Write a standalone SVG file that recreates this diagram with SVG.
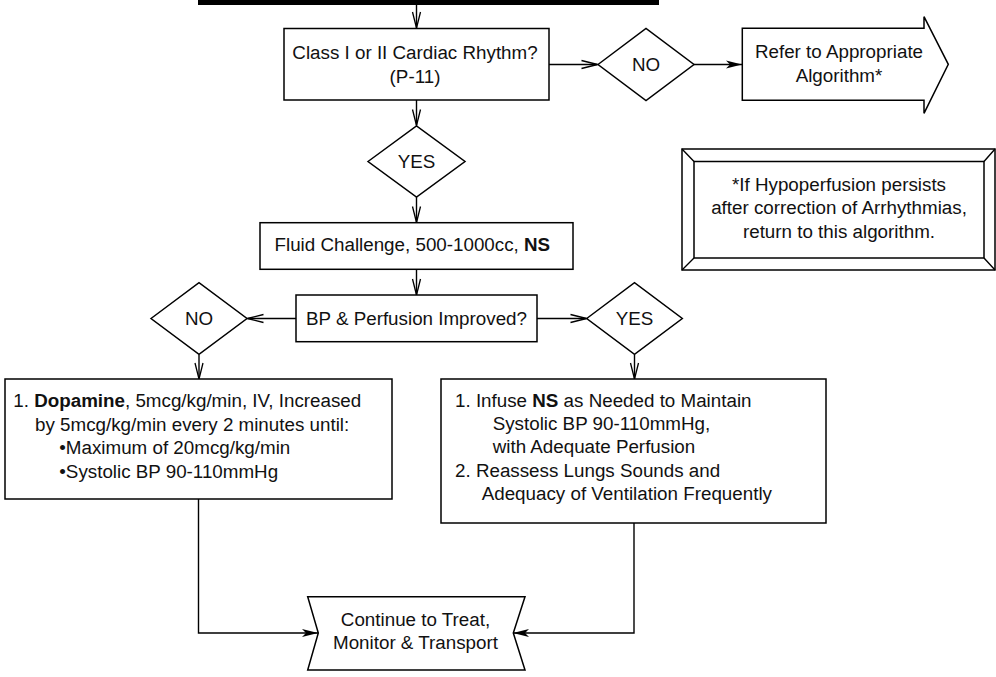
<svg xmlns="http://www.w3.org/2000/svg" width="996" height="677" viewBox="0 0 996 677">
<style>
.s{fill:#fff;stroke:#000;stroke-width:1.5}
.c{fill:none;stroke:#000;stroke-width:1.4}
text{font-family:"Liberation Sans",Arial,sans-serif;font-size:18.8px;fill:#111}
.m{text-anchor:middle}
.b{font-weight:bold}
</style>
<defs>
<marker id="v" markerUnits="userSpaceOnUse" markerWidth="20" markerHeight="12" viewBox="-17 -6 18 12" refX="0" refY="0" orient="auto">
<path d="M-16,-4 L0,0 L-16,4" fill="none" stroke="#000" stroke-width="1.3"/>
</marker>
<marker id="f" markerUnits="userSpaceOnUse" markerWidth="20" markerHeight="12" viewBox="-17 -6 18 12" refX="0" refY="0" orient="auto">
<path d="M-16,-4 L0,0 L-16,4 L-12,0 Z" fill="#000"/>
</marker>
</defs>
<rect id="topbar" x="198" y="0" width="461" height="5" fill="#000"/>
<g id="connectors">
<path class="c" d="M416.5,5 V28" marker-end="url(#v)"/>
<path class="c" d="M549,64.5 H597.5" marker-end="url(#v)"/>
<path class="c" d="M694,64.5 H742" marker-end="url(#f)"/>
<path class="c" d="M416.5,100 V125.5" marker-end="url(#v)"/>
<path class="c" d="M416.5,197 V222.5" marker-end="url(#v)"/>
<path class="c" d="M416.5,269.5 V295" marker-end="url(#v)"/>
<path class="c" d="M296,318.5 H247.5" marker-end="url(#v)"/>
<path class="c" d="M537,318.5 H586.5" marker-end="url(#v)"/>
<path class="c" d="M199,354.5 V379" marker-end="url(#v)"/>
<path class="c" d="M634.5,354.5 V379" marker-end="url(#v)"/>
<path class="c" d="M198.5,499 V633 H318" marker-end="url(#f)"/>
<path class="c" d="M634,523 V633 H513" marker-end="url(#f)"/>
</g>
<g id="n-rhythm">
<rect class="s" x="284" y="28.5" width="265" height="71.5"/>
<text class="m" x="415" y="59">Class I or II Cardiac Rhythm?</text>
<text class="m" x="415" y="82.5">(P-11)</text>
</g>
<g id="n-no1">
<path class="s" d="M598,64.5 L646,28.5 L694,64.5 L646,100.5 Z"/>
<text class="m" x="646" y="71">NO</text>
</g>
<g id="n-refer">
<path class="s" d="M742.3,28.3 H924 V16.7 L948.3,64.3 L924,113.3 V100.3 H742.3 Z"/>
<text class="m" x="839" y="58.3">Refer to Appropriate</text>
<text class="m" x="839" y="81.7">Algorithm*</text>
</g>
<g id="n-note">
<rect class="s" x="682" y="149" width="313" height="121"/>
<rect class="s" x="694" y="161.5" width="290" height="96.5"/>
<path class="c" d="M682,149 L694,161.5 M995,149 L984,161.5 M682,270 L694,258 M995,270 L984,258"/>
<text class="m" x="839" y="190.5">*If Hypoperfusion persists</text>
<text class="m" x="839" y="214">after correction of Arrhythmias,</text>
<text class="m" x="839" y="237.5">return to this algorithm.</text>
</g>
<g id="n-yes1">
<path class="s" d="M368,161.5 L416.5,126 L465,161.5 L416.5,197 Z"/>
<text class="m" x="416.5" y="168">YES</text>
</g>
<g id="n-fluid">
<rect class="s" x="260" y="222.7" width="313" height="46.6"/>
<text x="274.5" y="251">Fluid Challenge, 500-1000cc, <tspan class="b">NS</tspan></text>
</g>
<g id="n-bp">
<rect class="s" x="296" y="295" width="241" height="46.7"/>
<text class="m" x="416.5" y="324.5">BP &amp; Perfusion Improved?</text>
</g>
<g id="n-no2">
<path class="s" d="M151,318.5 L199,282.7 L247,318.5 L199,354.3 Z"/>
<text class="m" x="199" y="325">NO</text>
</g>
<g id="n-yes2">
<path class="s" d="M586.7,318.5 L634.5,282.7 L682.3,318.5 L634.5,354.3 Z"/>
<text class="m" x="634.5" y="325">YES</text>
</g>
<g id="n-dopamine">
<rect class="s" x="5" y="379" width="387" height="120"/>
<text x="13.3" y="407.3">1. <tspan class="b">Dopamine</tspan>, 5mcg/kg/min, IV, Increased</text>
<text x="35" y="431">by 5mcg/kg/min every 2 minutes until:</text>
<text x="59.3" y="454.3">•Maximum of 20mcg/kg/min</text>
<text x="59.3" y="477.5">•Systolic BP 90-110mmHg</text>
</g>
<g id="n-infuse">
<rect class="s" x="441" y="379" width="385" height="144"/>
<text x="455" y="406.7">1. Infuse <tspan class="b">NS</tspan> as Needed to Maintain</text>
<text x="492.7" y="430">Systolic BP 90-110mmHg,</text>
<text x="492.7" y="453.3">with Adequate Perfusion</text>
<text x="455" y="476.7">2. Reassess Lungs Sounds and</text>
<text x="481.7" y="500">Adequacy of Ventilation Frequently</text>
</g>
<g id="n-continue">
<path class="s" d="M307.7,596.7 H525 L513.3,633 L525,670 H307.7 L318.3,633 Z"/>
<text class="m" x="415.5" y="626">Continue to Treat,</text>
<text class="m" x="415.5" y="649.3">Monitor &amp; Transport</text>
</g>
</svg>
